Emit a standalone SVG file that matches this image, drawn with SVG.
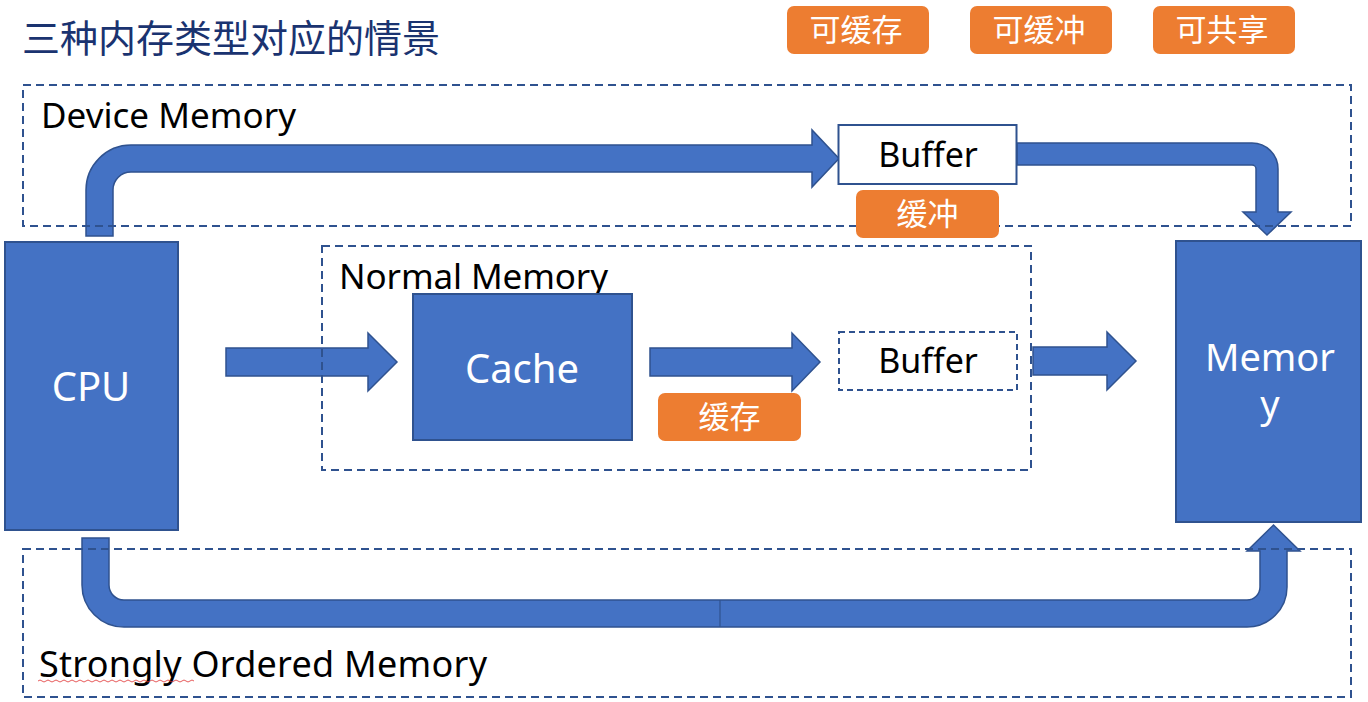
<svg xmlns="http://www.w3.org/2000/svg" width="1368" height="702" viewBox="0 0 1368 702">
<style>
.blue{fill:#4472C4;stroke:#2F528F;stroke-width:2}
.arrow{fill:#4472C4;stroke:#2F528F;stroke-width:1.5;stroke-linejoin:miter}
.zone{fill:none;stroke:#2F528F;stroke-width:2;stroke-dasharray:8 5}
.tag{fill:#ED7D31}
.lbl{font-family:"Noto Sans","Open Sans","DejaVu Sans",sans-serif;fill:#000}
.wt{font-family:"Noto Sans","Open Sans","DejaVu Sans",sans-serif;fill:#fff;text-anchor:middle}
.cjk{font-family:"Noto Sans CJK SC","Noto Sans",sans-serif;fill:#fff;text-anchor:middle;font-size:31px}
</style>
<rect width="1368" height="702" fill="#fff"/>
<text x="22" y="52" textLength="418" style="font-family:'Noto Sans CJK SC','Noto Sans',sans-serif;font-size:38px;fill:#1A3370">三种内存类型对应的情景</text>

<g id="legend">
<g id="tag-cacheable"><rect class="tag" x="787" y="6" width="142" height="48" rx="7"/><text class="cjk" x="856" y="41">可缓存</text></g>
<g id="tag-bufferable"><rect class="tag" x="970" y="6" width="142" height="48" rx="7"/><text class="cjk" x="1039" y="41">可缓冲</text></g>
<g id="tag-shareable"><rect class="tag" x="1153" y="6" width="142" height="48" rx="7"/><text class="cjk" x="1222" y="41">可共享</text></g>
</g>

<g id="connectors">
<path id="arrow-top" class="arrow" d="M86,236 V190 A45,45 0 0 1 131,145 H812 V130 L839,158.5 L812,187 V172 H131 A18,18 0 0 0 113,190 V236 Z"/>
<path id="arrow-top-right" class="arrow" d="M1017,143 H1252 A26,26 0 0 1 1278,169 V212 H1291 L1267,235 L1243,212 H1256 V169 A4,4 0 0 0 1252,165 H1017 Z"/>
<path id="arrow-cpu-cache" class="arrow" d="M226,348 H368 V333 L397,362 L368,391 V376 H226 Z"/>
<path id="arrow-cache-buffer" class="arrow" d="M650,348 H792 V333 L820,362 L792,391 V376 H650 Z"/>
<path id="arrow-buffer-memory" class="arrow" d="M1033,347 H1107 V332 L1136,361 L1107,390 V375 H1033 Z"/>
<path id="arrow-bottom" class="arrow" d="M82,538 V585 A42,42 0 0 0 124,627 H1247 A40,40 0 0 0 1287,587 V551 H1300 L1273.5,525 L1247,551 H1260 V587 A13,13 0 0 1 1247,600 H124 A15,15 0 0 1 109,585 V538 Z"/>
<line x1="720" y1="600" x2="720" y2="627" stroke="#2F528F" stroke-width="1.2"/>
</g>

<g id="device-memory">
<rect class="zone" x="23" y="85" width="1328" height="141"/>
<text class="lbl" x="41" y="128" font-size="35" textLength="255">Device Memory</text>
</g>
<g id="normal-memory">
<rect class="zone" x="322" y="246" width="709" height="224"/>
<text class="lbl" x="339" y="289" font-size="35" textLength="269">Normal Memory</text>
</g>
<g id="strongly-ordered-memory">
<rect class="zone" x="23" y="549" width="1328" height="148"/>
<text class="lbl" x="39" y="677" font-size="36" textLength="448">Strongly Ordered Memory</text>
<path d="M38,681 q2,-2 4,0 t4,0 t4,0 t4,0 t4,0 t4,0 t4,0 t4,0 t4,0 t4,0 t4,0 t4,0 t4,0 t4,0 t4,0 t4,0 t4,0 t4,0 t4,0 t4,0 t4,0 t4,0 t4,0 t4,0 t4,0 t4,0 t4,0 t4,0 t4,0 t4,0 t4,0 t4,0 t4,0 t4,0 t4,0 t4,0 t4,0 t4,0 t4,0" fill="none" stroke="#E03030" stroke-width="0.8"/>
</g>

<g id="cpu">
<rect class="blue" x="5" y="242" width="173" height="288"/>
<text class="wt" x="91" y="401" font-size="40">CPU</text>
</g>
<g id="cache">
<rect class="blue" x="413" y="294" width="219" height="146"/>
<text class="wt" x="522" y="383" font-size="40">Cache</text>
</g>
<g id="buffer-normal">
<rect x="839" y="332" width="178" height="58" fill="#fff" stroke="#2F528F" stroke-width="2" stroke-dasharray="6 4"/>
<text class="lbl" x="928" y="373" font-size="34" text-anchor="middle">Buffer</text>
</g>
<g id="tag-cache">
<rect class="tag" x="658" y="393" width="143" height="48" rx="7"/>
<text class="cjk" x="729.5" y="428">缓存</text>
</g>
<g id="buffer-device">
<rect x="838.5" y="125" width="178" height="59" fill="#fff" stroke="#2F528F" stroke-width="2"/>
<text class="lbl" x="928" y="167" font-size="34" text-anchor="middle">Buffer</text>
</g>
<g id="tag-buffer">
<rect class="tag" x="856" y="190" width="143" height="48" rx="7"/>
<text class="cjk" x="927.5" y="225">缓冲</text>
</g>
<g id="memory">
<rect class="blue" x="1176" y="241" width="185" height="281"/>
<text class="wt" x="1270" y="371" font-size="38">Memor</text>
<text class="wt" x="1270" y="418" font-size="38">y</text>
</g>
</svg>
